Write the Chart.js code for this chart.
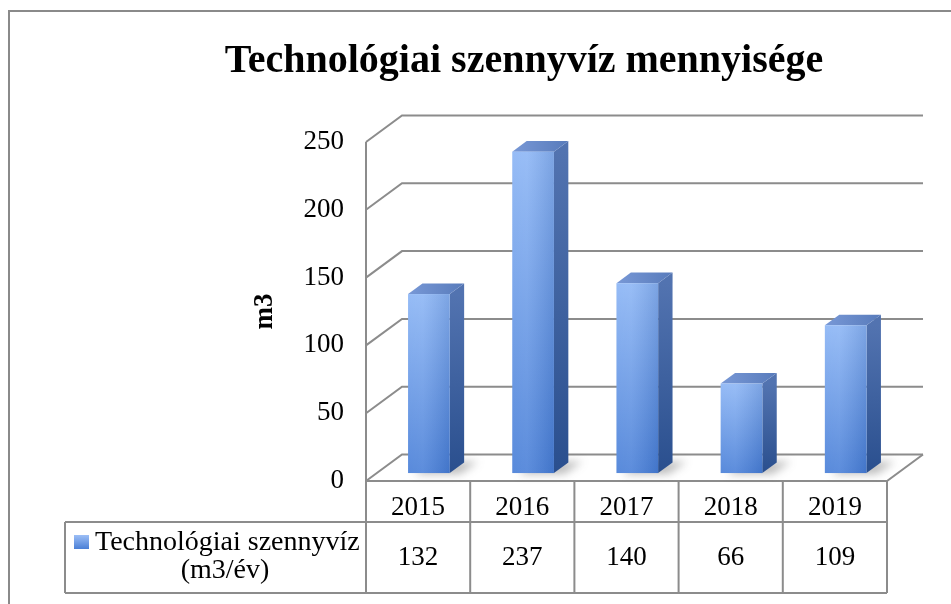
<!DOCTYPE html>
<html>
<head>
<meta charset="utf-8">
<script src="https://cdn.jsdelivr.net/npm/chart.js@4/dist/chart.umd.min.js"></script>
<style>
  html, body { margin: 0; padding: 0; background: #ffffff; }
  canvas { display: block; }
</style>
</head>
<body>
<canvas id="c" width="951" height="604"></canvas>
<script>
// ---- data ----
const categories = ['2015', '2016', '2017', '2018', '2019'];
const values = [132, 237, 140, 66, 109];
const yTicks = [0, 50, 100, 150, 200, 250];
const seriesLabel = ['Technológiai szennyvíz', '(m3/év)'];
const chartTitle = 'Technológiai szennyvíz mennyisége';
const axisTitle = 'm3';

const FONT = "'Liberation Serif', 'Times New Roman', serif";
const GRID = '#8c8c8c';
const DX = 36, DY = -26.5;          // wall depth
const F0 = 0.3, FD = 0.4;           // bar depth start / size (fraction of wall depth)

const threeD = {
  id: 'threeD',
  beforeDraw(chart) {
    const ctx = chart.ctx;
    ctx.save();
    ctx.fillStyle = '#ffffff';
    ctx.fillRect(0, 0, chart.width, chart.height);
    ctx.strokeStyle = '#8a8a8a';
    ctx.lineWidth = 2;
    ctx.strokeRect(9, 11, chart.width + 20, chart.height + 20);
    ctx.restore();
  },
  beforeDatasetsDraw(chart) {
    const ctx = chart.ctx, ys = chart.scales.y;
    const {left: L, right: R, bottom: B} = chart.chartArea;
    ctx.save();
    ctx.strokeStyle = GRID;
    ctx.lineWidth = 2;
    yTicks.forEach(v => {
      const y = ys.getPixelForValue(v);
      ctx.beginPath();
      ctx.moveTo(L, y);
      ctx.lineTo(L + DX, y + DY);
      ctx.lineTo(R + DX, y + DY);
      ctx.stroke();
    });
    ctx.beginPath();
    ctx.moveTo(L, ys.getPixelForValue(yTicks[yTicks.length - 1]));
    ctx.lineTo(L, B);
    ctx.stroke();
    ctx.beginPath();
    ctx.moveTo(L, B);
    ctx.lineTo(R, B);
    ctx.lineTo(R + DX, B + DY);
    ctx.stroke();
    ctx.restore();
  },
  afterDatasetsDraw(chart) {
    const ctx = chart.ctx;
    const meta = chart.getDatasetMeta(0);
    const bx = DX * F0, by = DY * F0, dx = DX * FD, dy = DY * FD;
    meta.data.forEach(el => {
      const x0 = el.x - el.width / 2 + bx, x1 = el.x + el.width / 2 + bx;
      const y0 = el.y + by, y1 = el.base + by;
      ctx.save();
      ctx.filter = 'blur(4px)';
      ctx.fillStyle = 'rgba(60,60,60,0.35)';
      ctx.beginPath();
      ctx.moveTo(x0 + 6, y1 + 1);
      ctx.lineTo(x1 + 10, y1 + 1);
      ctx.lineTo(x1 + dx + 14, y1 + dy - 1);
      ctx.lineTo(x0 + dx + 6, y1 + dy);
      ctx.closePath();
      ctx.fill();
      ctx.restore();

      ctx.save();
      let g = ctx.createLinearGradient(0, y0, 0, y1);
      g.addColorStop(0, '#5273b0');
      g.addColorStop(1, '#2a4f8e');
      ctx.fillStyle = g;
      ctx.beginPath();
      ctx.moveTo(x1, y0);
      ctx.lineTo(x1 + dx, y0 + dy);
      ctx.lineTo(x1 + dx, y1 + dy);
      ctx.lineTo(x1, y1);
      ctx.closePath();
      ctx.fill();
      g = ctx.createLinearGradient(x0, 0, x1 + dx, 0);
      g.addColorStop(0, '#7898d6');
      g.addColorStop(1, '#587bbb');
      ctx.fillStyle = g;
      ctx.beginPath();
      ctx.moveTo(x0, y0);
      ctx.lineTo(x0 + dx, y0 + dy);
      ctx.lineTo(x1 + dx, y0 + dy);
      ctx.lineTo(x1, y0);
      ctx.closePath();
      ctx.fill();
      g = ctx.createLinearGradient(0, y0, 0, y1);
      g.addColorStop(0, '#8db6f5');
      g.addColorStop(1, '#4a80d8');
      ctx.fillStyle = g;
      ctx.fillRect(x0, y0, x1 - x0, y1 - y0);
      g = ctx.createLinearGradient(x0, 0, x1, 0);
      g.addColorStop(0, 'rgba(255,255,255,0.08)');
      g.addColorStop(0.35, 'rgba(255,255,255,0.10)');
      g.addColorStop(1, 'rgba(0,30,90,0.12)');
      ctx.fillStyle = g;
      ctx.fillRect(x0, y0, x1 - x0, y1 - y0);
      ctx.restore();
    });
  },
  afterDraw(chart) {
    const ctx = chart.ctx, xs = chart.scales.x;
    const {left: L, right: R, bottom: B} = chart.chartArea;
    const r1 = 522, r2 = 593, tl = 65;
    const cw = (R - L) / categories.length;
    ctx.save();
    ctx.strokeStyle = GRID;
    ctx.lineWidth = 2;
    ctx.beginPath();
    for (let i = 0; i <= categories.length; i++) {
      const x = L + i * cw;
      ctx.moveTo(x, B); ctx.lineTo(x, r2);
    }
    ctx.moveTo(tl, r1); ctx.lineTo(R, r1);
    ctx.moveTo(tl, r2); ctx.lineTo(R, r2);
    ctx.moveTo(tl, r1); ctx.lineTo(tl, r2);
    ctx.stroke();
    const kg = ctx.createLinearGradient(0, 535, 0, 549);
    kg.addColorStop(0, '#9cbef6');
    kg.addColorStop(1, '#4a7fd6');
    ctx.fillStyle = kg;
    ctx.fillRect(74, 535, 15, 14);
    ctx.fillStyle = '#000000';
    ctx.font = '28px ' + FONT;
    ctx.textBaseline = 'alphabetic';
    ctx.textAlign = 'left';
    ctx.fillText(seriesLabel[0], 95, 550);
    ctx.textAlign = 'center';
    ctx.fillText(seriesLabel[1], 225, 578);
    ctx.font = '27px ' + FONT;
    ctx.textBaseline = 'middle';
    values.forEach((v, i) => {
      ctx.fillText(String(v), xs.getPixelForValue(i), 558);
    });
    ctx.restore();
  }
};

new Chart(document.getElementById('c'), {
  type: 'bar',
  data: {
    labels: categories,
    datasets: [{
      label: seriesLabel.join(' '),
      data: values,
      backgroundColor: 'rgba(0,0,0,0)',
      borderWidth: 0,
      categoryPercentage: 1,
      barPercentage: 0.4
    }]
  },
  options: {
    responsive: false,
    animation: false,
    devicePixelRatio: 1,
    layout: { padding: { left: 161, right: 64, top: 38, bottom: 0 } },
    plugins: {
      legend: { display: false },
      tooltip: { enabled: false },
      title: {
        display: true,
        text: chartTitle,
        color: '#000000',
        font: { family: FONT, size: 40, weight: 'bold' },
        padding: { top: 0, bottom: 56 }
      }
    },
    scales: {
      x: {
        grid: { display: false, drawTicks: false },
        border: { display: false },
        ticks: { color: '#000000', font: { family: FONT, size: 27 }, padding: 11, maxRotation: 0 },
        afterFit(s) { s.height = 123; }
      },
      y: {
        min: 0, max: 250,
        grid: { display: false, drawTicks: false },
        border: { display: false },
        ticks: { stepSize: 50, color: '#000000', font: { family: FONT, size: 27 }, padding: 22 },
        title: {
          display: true, text: axisTitle, color: '#000000',
          font: { family: FONT, size: 27, weight: 'bold' },
          padding: { top: 88, bottom: 0 }
        },
        afterFit(s) { s.width = 205; }
      }
    }
  },
  plugins: [threeD]
});
</script>
</body>
</html>
